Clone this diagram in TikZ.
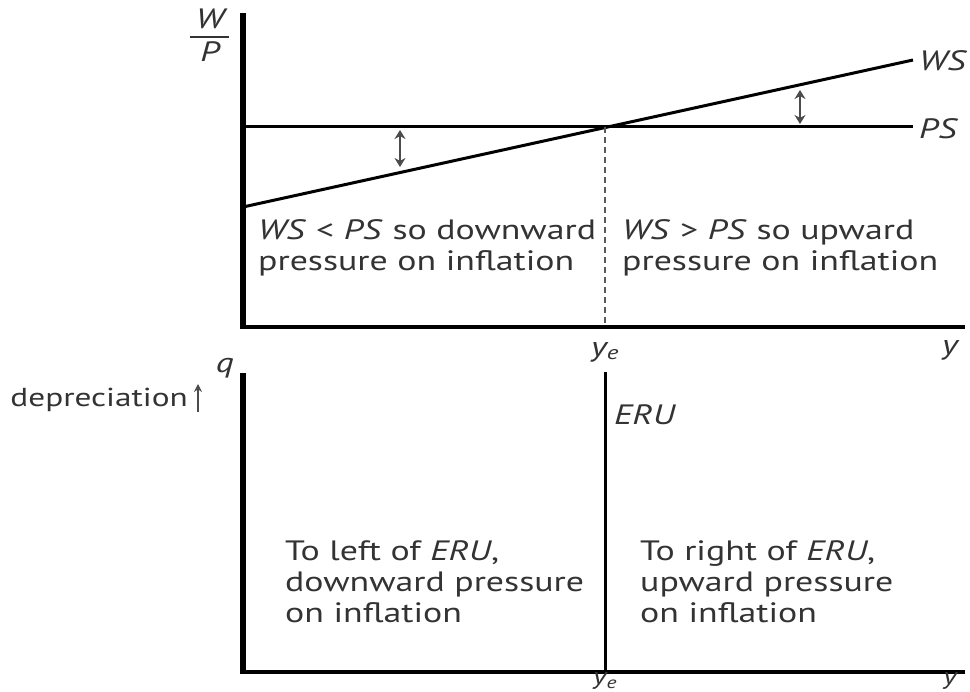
\documentclass[tikz,border=0pt]{standalone}
\usepackage{fontspec}
\setmainfont[FakeStretch=1.28]{PT Sans}
\usetikzlibrary{arrows.meta}
\definecolor{txt}{HTML}{333333}
\begin{document}
\begin{tikzpicture}[x=1pt,y=-1pt,
  axis/.style={line width=5.5pt,black},
  haxis/.style={line width=3.5pt,black},
  curve/.style={line width=3pt,black},
  lab/.style={text=txt,font=\fontsize{28}{32}\selectfont,inner sep=0pt},
  ilab/.style={lab,font=\fontsize{28}{32}\selectfont\itshape},
  blab/.style={lab,font=\fontsize{24}{28}\selectfont\itshape},
  body/.style={text=txt,font=\fontsize{28}{31}\selectfont,inner sep=0pt,align=left,anchor=north west},
  dbl/.style={{Stealth[length=9pt,width=11pt]}-{Stealth[length=9pt,width=11pt]},line width=2.5pt,draw=black!70},
]
\useasboundingbox (0,0) rectangle (970,692);
% top panel
\coordinate (o1) at (243,329);
\coordinate (t1) at (243,13);
\coordinate (x1) at (965,327);
\draw[axis] (o1) -- (t1);
\coordinate (x1s) at (240,327);
\draw[haxis] (x1s) -- (x1);
\coordinate (ps0) at (243,127);
\coordinate (ps1) at (913,127);
\coordinate (ws0) at (243,207);
\coordinate (ws1) at (913,60);
\draw[curve] (ps0) -- (ps1);
\draw[curve] (ws0) -- (ws1);
\node[ilab,anchor=west] (psl) at (919,129) {PS};
\node[ilab,anchor=west] (wsl) at (919,61) {WS};
\coordinate (eq) at (605,127);
\coordinate (eqb) at (605,326);
\draw[dash pattern=on 6pt off 4pt,line width=1.5pt,draw=black!65] (eq) -- (eqb);
% W/P
\node[ilab] (wn) at (210,19) {W};
\node[ilab] (pn) at (210,52) {P};
\coordinate (fb0) at (190,37);
\coordinate (fb1) at (229,37);
\draw[line width=2.2pt,draw=txt] (fb0) -- (fb1);
\node[ilab] (ye1) at (605,352) {y\textsubscript{e}};
\node[ilab] (y1) at (950,350) {y};
\coordinate (a1t) at (400,130);
\coordinate (a1b) at (400,167);
\draw[dbl] (a1t) -- (a1b);
\coordinate (a2t) at (800,90);
\coordinate (a2b) at (800,124);
\draw[dbl] (a2t) -- (a2b);
\node[body] (tl) at (258,219) {\textit{WS} < \textit{PS} so downward\\pressure on inflation};
\node[body] (tr) at (622,219) {\textit{WS} > \textit{PS} so upward\\pressure on inflation};
% bottom panel
\coordinate (o2) at (243,674);
\coordinate (t2) at (243,373);
\coordinate (x2) at (965,672);
\draw[axis] (o2) -- (t2);
\coordinate (x2s) at (240,672);
\draw[haxis] (x2s) -- (x2);
\coordinate (eru0) at (605,372);
\coordinate (eru1) at (605,672);
\draw[line width=3pt] (eru0) -- (eru1);
\node[ilab,anchor=west] (erul) at (614,415) {ERU};
\node[ilab] (q) at (225,368) {q};
\node[lab,anchor=east,font=\fontsize{26}{30}\selectfont] (dep) at (188,400) {depreciation};
\coordinate (dpb) at (198,412);
\coordinate (dpt) at (198,384);
\draw[-{Stealth[length=8pt,width=8pt]},line width=1.5pt,draw=black!70] (dpb) -- (dpt);
\node[blab] (ye2) at (605,681) {y\textsubscript{e}};
\node[blab] (y2) at (950,681) {y};
\node[body] (bl) at (285,540) {To left of \textit{ERU},\\downward pressure\\on inflation};
\node[body] (br) at (640,540) {To right of \textit{ERU},\\upward pressure\\on inflation};
\end{tikzpicture}
\end{document}
